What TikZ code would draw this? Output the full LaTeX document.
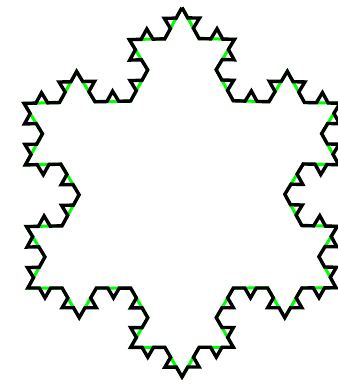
\documentclass[tikz,border=0pt]{standalone}
\usetikzlibrary{decorations.fractals}
\begin{document}
\begin{tikzpicture}[x=1pt, y=-1pt,
    prevlevel/.style={green, line width=3pt, decoration=Koch snowflake},
    lastlevel/.style={black, line width=3.4pt, decoration=Koch snowflake}]
    % 画布范围
    \useasboundingbox (0,0) rectangle (338,389);

    \begin{scope}[shift={(182,194.5)}, x=178pt, y=187pt]
    % 第二层 (绿色, 在下面)
    \draw[prevlevel] decorate{decorate{ (0,1) -- (0.866,-0.5) -- (-0.866,-0.5) -- cycle }};

    % 第三层 (黑色)
    \draw[lastlevel] decorate{decorate{decorate{ (0,1) -- (0.866,-0.5) -- (-0.866,-0.5) -- cycle }}};
    \end{scope}
\end{tikzpicture}
\end{document}
